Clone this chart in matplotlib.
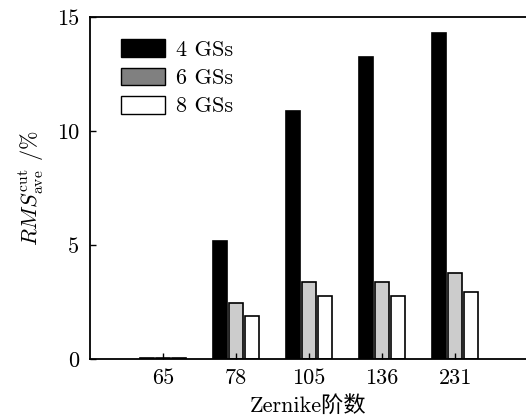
import matplotlib
matplotlib.use("Agg")
import matplotlib.pyplot as plt
import numpy as np
from matplotlib.patches import Patch

categories = ["65", "78", "105", "136", "231"]
gs4 = [0.05, 5.17, 10.88, 13.25, 14.3]
gs6 = [0.05, 2.44, 3.36, 3.36, 3.76]
gs8 = [0.05, 1.90, 2.75, 2.75, 2.94]
series_labels = ["4 GSs", "6 GSs", "8 GSs"]
yticks = [0, 5, 10, 15]

plt.rcParams['font.family'] = ['cmr10', 'Noto Sans CJK SC', 'DejaVu Sans']
plt.rcParams['mathtext.fontset'] = 'cm'
plt.rcParams['axes.unicode_minus'] = False

FS = 16

fig = plt.figure(figsize=(5.26, 4.2), dpi=100)
ax = fig.add_axes([90/526, 61/420, 436/526, 342/420])

x = np.arange(len(categories))
w = 0.19
off = 0.22
ax.bar(x - off, gs4, w, color='black', edgecolor='black', linewidth=1.2)
ax.bar(x, gs6, w, color='#cccccc', edgecolor='black', linewidth=1.2)
ax.bar(x + off, gs8, w, color='white', edgecolor='black', linewidth=1.2)

ax.set_xlim(-1, 4.97)
ax.set_ylim(0, 15)
ax.set_xticks(x)
ax.set_xticklabels(categories)
ax.set_yticks(yticks)
ax.set_yticklabels([str(t) for t in yticks])
ax.tick_params(direction='in', labelsize=FS, length=4, width=1)
ax.tick_params(axis='x', pad=7)
ax.tick_params(axis='y', pad=8)
ax.spines['right'].set_visible(False)
for s in ['left', 'bottom', 'top']:
    ax.spines[s].set_linewidth(1.3)

ax.set_xlabel('Zernike阶数', fontsize=FS, labelpad=5)
ax.set_ylabel(r'$RMS^{\rm cut}_{\rm ave}$ /%', fontsize=FS, labelpad=8)

handles = [Patch(facecolor='black', edgecolor='black'),
           Patch(facecolor='#808080', edgecolor='black'),
           Patch(facecolor='white', edgecolor='black')]
ax.legend(handles, series_labels, loc='upper left', frameon=False, fontsize=FS,
          handlelength=2.0, handleheight=0.85, labelspacing=0.35,
          handletextpad=0.5, borderaxespad=0, borderpad=0,
          bbox_to_anchor=(0.070, 0.935))

fig.savefig('out.png', dpi=100)
